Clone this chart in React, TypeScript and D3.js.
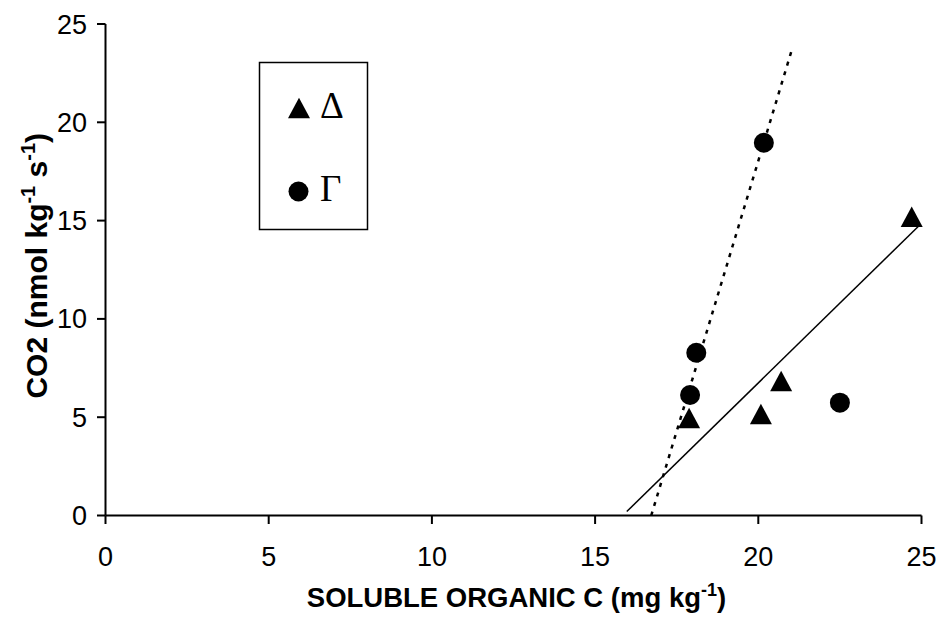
import React from "react";
import * as d3 from "d3";

const W = 939;
const H = 617;

// Data
const triX = [17.88, 20.08, 20.7, 24.7];
const triY = [4.96, 5.16, 6.84, 15.2];
const cirX = [17.91, 18.1, 20.17, 22.5];
const cirY = [6.13, 8.28, 18.96, 5.74];
const solidFitX = [15.97, 24.9];
const solidFitY = [0.2, 14.7];
const dottedFitX = [16.72, 21.03];
const dottedFitY = [0.0, 23.7];
const xTicks = [0, 5, 10, 15, 20, 25];
const yTicks = [0, 5, 10, 15, 20, 25];
const legendLabels = ["Δ", "Γ"];

const x = d3.scaleLinear().domain([0, 25]).range([105.5, 921.5]);
const y = d3.scaleLinear().domain([0, 25]).range([515.5, 24]);

const triPath = (cx: number, cy: number, w = 22, h = 20.5) =>
  `M${cx},${cy - h / 2}L${cx + w / 2},${cy + h / 2}L${cx - w / 2},${cy + h / 2}Z`;

export default function App() {
  const line = d3
    .line<[number, number]>()
    .x((d) => x(d[0]))
    .y((d) => y(d[1]));
  const solid = solidFitX.map((v, i) => [v, solidFitY[i]] as [number, number]);
  const dotted = dottedFitX.map((v, i) => [v, dottedFitY[i]] as [number, number]);
  const sans = "'Liberation Sans', Arial, sans-serif";
  const serif = "'Liberation Serif', 'Times New Roman', serif";

  return (
    <svg
      width={W}
      height={H}
      style={{ position: "absolute", left: 0, top: 0, background: "#fff" }}
    >
      <rect x={0} y={0} width={W} height={H} fill="#fff" />
      {/* fit lines */}
      <path d={line(solid) || ""} fill="none" stroke="#000" strokeWidth={1.5} />
      <path
        d={line(dotted) || ""}
        fill="none"
        stroke="#000"
        strokeWidth={2.5}
        strokeDasharray="4,6"
      />
      {/* axes */}
      <line x1={x(0)} x2={x(25)} y1={y(0)} y2={y(0)} stroke="#000" strokeWidth={2} />
      <line x1={x(0)} x2={x(0)} y1={y(0)} y2={y(25)} stroke="#000" strokeWidth={2} />
      {xTicks.map((t) => (
        <g key={"xt" + t}>
          <line x1={x(t)} x2={x(t)} y1={y(0)} y2={y(0) + 8.5} stroke="#000" strokeWidth={2} />
          <text
            x={x(t)}
            y={566}
            textAnchor="middle"
            fontFamily={sans}
            fontSize={27}
          >
            {t}
          </text>
        </g>
      ))}
      {yTicks.map((t) => (
        <g key={"yt" + t}>
          <line x1={x(0) - 8.5} x2={x(0)} y1={y(t)} y2={y(t)} stroke="#000" strokeWidth={2} />
          <text
            x={87}
            y={y(t) + 9.5}
            textAnchor="end"
            fontFamily={sans}
            fontSize={27}
          >
            {t}
          </text>
        </g>
      ))}
      {/* axis titles */}
      <text
        x={(x(0) + x(25)) / 2 + 3}
        y={607}
        textAnchor="middle"
        fontFamily={sans}
        fontSize={27.5}
        fontWeight="bold"
      >
        SOLUBLE ORGANIC C (mg kg
        <tspan dy={-11} fontSize={18}>-1</tspan>
        <tspan dy={11}>)</tspan>
      </text>
      <text
        transform={`translate(47,${(y(0) + y(25)) / 2 - 4}) rotate(-90)`}
        textAnchor="middle"
        fontFamily={sans}
        fontSize={30}
        fontWeight="bold"
      >
        CO2 (nmol kg
        <tspan dy={-12} fontSize={20}>-1</tspan>
        <tspan dy={12}> s</tspan>
        <tspan dy={-12} fontSize={20}>-1</tspan>
        <tspan dy={12}>)</tspan>
      </text>
      {/* data */}
      {triX.map((v, i) => (
        <path key={"t" + i} d={triPath(x(v), y(triY[i]))} fill="#000" />
      ))}
      {cirX.map((v, i) => (
        <circle key={"c" + i} cx={x(v)} cy={y(cirY[i])} r={10} fill="#000" />
      ))}
      {/* legend */}
      <rect x={259.5} y={62.5} width={108} height={167} fill="#fff" stroke="#000" strokeWidth={1.5} />
      <path d={triPath(299, 108)} fill="#000" />
      <text x={320} y={118} fontFamily={serif} fontSize={37}>
        {legendLabels[0]}
      </text>
      <circle cx={298.5} cy={191.5} r={10} fill="#000" />
      <text x={320} y={201} fontFamily={serif} fontSize={37}>
        {legendLabels[1]}
      </text>
    </svg>
  );
}
